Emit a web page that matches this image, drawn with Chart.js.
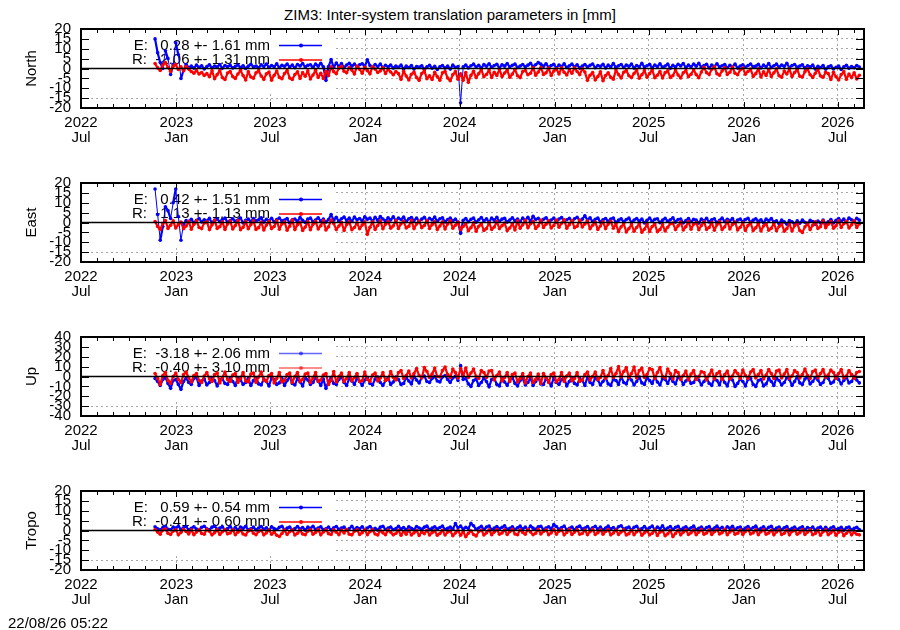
<!DOCTYPE html>
<html>
<head>
<meta charset="utf-8">
<script src="https://cdn.jsdelivr.net/npm/chart.js@4.4.1/dist/chart.umd.min.js"></script>
<style>
html, body { margin: 0; padding: 0; width: 900px; height: 630px; overflow: hidden; background: #fff; }
body { position: relative; font-family: 'Liberation Sans', Arial, sans-serif; color: #000; }
canvas { position: absolute; left: 0; }
#title { position: absolute; top: 6px; left: 0; width: 900px; text-align: center; font-size: 15px; line-height: 17px; }
#stamp { position: absolute; left: 8px; top: 614px; font-size: 15px; line-height: 17px; z-index: 2; }
</style>
</head>
<body>
<div id="title">ZIM3: Inter-system translation parameters in [mm]</div>
<canvas id="north" width="900" height="154" style="top:21px"></canvas>
<canvas id="east" width="900" height="154" style="top:175px"></canvas>
<canvas id="up" width="900" height="154" style="top:329px"></canvas>
<canvas id="tropo" width="900" height="154" style="top:483px"></canvas>
<div id="stamp">22/08/26 05:22</div>
<script>
// x values are days since 2022-07-01; one sample every 5 days
const firstDay = 143;
const stepDays = 5;
const axisMaxDay = 1512;

const tickLabels = [
    ['2022', 'Jul'], ['2023', 'Jan'], ['2023', 'Jul'], ['2024', 'Jan'], ['2024', 'Jul'],
    ['2025', 'Jan'], ['2025', 'Jul'], ['2026', 'Jan'], ['2026', 'Jul']
];

const northE = [
    15, 8, 3, 0, 9, 5, -3, 2, 13, 7,
    -5, -1, 2, 0.5, 1.2, 0.2, 1.8, 0.6, 1.4, -0.2,
    1, 1.9, 0.4, 1.3, 0.8, 2, 0.1, 1.5, 0.9, 1.7,
    0.3, 1.1, 1.8, 0.5, 1.4, 0, 1.2, 2.1, 0.7, 1.3,
    0.4, 1.9, 1, 2.2, 0.6, 1.5, 0.9, 2.4, 0.5, 1.6,
    1.1, 2.3, 0.7, 1.8, 0.4, 2, 1.3, 2.5, 0.8, 1.6,
    1.9, 0.6, 2.2, 1.2, 2.6, 0.9, -6, 1, 4.5, 0.5,
    2.8, 1, 2.5, 0.6, 1.8, 2.6, 1.2, 2.2, 0.8, 1.9,
    2.4, 1.1, 4.4, 1.5, 0.6, 2, 1, 2.3, 0.4, 1.6,
    0.9, 1.8, 0.2, 1.3, 0.6, 1.7, -0.2, 1.2, 0.5, 1.5,
    -0.3, 1, 0.7, 1.4, -0.4, 0.8, 1.6, 0.1, 1.1, -0.5,
    0.9, 1.5, 0.2, 1.2, -0.3, 1.7, 0.5, 1, -17.4, 0.8,
    1.8, 0.3, 1.4, 2.2, 0.7, 1.6, 0.2, 2, 1.1, 2.4,
    0.6, 1.5, 2.1, 0.4, 1.9, 1.2, 2.5, 0.8, 1.6, 2.2,
    0.5, 1.3, 2, 0.9, 1.7, 2.6, 1, 1.9, 3, 2.2,
    1.1, 2.4, 0.6, 1.5, 2.1, 0.3, 1.8, 1, 2.4, 0.5,
    1.4, 2.2, 0.8, 1.9, 0.2, 1.2, 2, 0.7, 1.6, 2.3,
    0.4, 1.5, 1.1, 2.1, 0.3, 1.7, 0.9, 2.5, 0.6, 1.4,
    2, 0.5, 1.8, 1.1, 2.3, 0.2, 1.5, 0.9, 2.6, 0.7,
    1.4, 2.1, 0.4, 1.8, 1, 2.4, 0.6, 1.3, 2.2, 0.1,
    1.6, 0.8, 2.1, 1.3, 2.5, 0.5, 1.7, 0.9, 2.3, 1.2,
    2.6, 0.6, 1.5, 2.1, 0.3, 1.8, 1, 2.4, 0.7, 1.4,
    2, 0.4, 1.6, 0.9, 2.2, 0.2, 1.3, 1.9, 0.6, 1.5,
    2.3, 0.8, 1.2, 2.1, 0.3, 1.7, 0.9, 2.5, 0.5, 1.4,
    2.2, 0.7, 1.8, 1.1, 2.6, 0.4, 1.5, 2, 0.6, 1.3,
    1.9, 0.2, 1.4, 0.8, 1.7, -0.3, 1.1, 0.5, 1.5, -0.4,
    0.9, 1.4, -0.2, 0.6, 1.2, -0.5, 0.8, 1.6, 0.1, 1,
    0.4, 1.5, 0.7
];
const northR = [
    2.5, 0.3, -1, 1.8, 3, 0.5, -1.5, 1.2, 2, -0.5,
    0.8, -1.2, 1, -0.3, -1.5, -2.4, -1, -2.8, -2, -3.5,
    -2.6, -4.2, -1.2, -5.2, -3.1, -1, -4.6, -5.6, -2.3, -1.5,
    -4.1, -5, -2.8, -0.9, -3.6, -5.8, -1.6, -4.3, -4.9, -2.2,
    -1.1, -3.8, -5.5, -2.7, -1.8, -5.9, -3.4, -1.3, -4.5, -5.2,
    -2.5, -1, -4.8, -5.6, -3, -1.7, -5, -2.1, -3.9, -1.2,
    -5.3, -3.3, -0.9, -4.5, -2.4, -5.1, -1.4, -3.6, 0.8, -1.6,
    -2.6, 0.2, 1.1, -1.4, -2.2, 0.5, -0.8, -2.8, 1.2, -0.4,
    -2.4, 0.6, -1.1, -2.7, 0.9, -0.3, -2, -1.2, 0.4, -2.5,
    -0.5, -1.8, -3.2, -1.5, -2.6, -5.5, -1.4, -3.8, -5.8, -2.9,
    -1.8, -4.6, -6, -2.5, -1.2, -5.2, -3.7, -5.6, -1.9, -4.1,
    -5.9, -2.2, -1.5, -4.8, -6.2, -3.1, -1.6, -5.4, -2.7, -6,
    -2, -7, -3.5, -1.4, -4.6, -2.6, -0.6, -4.2, -3, -0.8,
    -4.5, -1.9, -3.5, -0.5, -4.1, -2.3, -0.9, -4.4, -2.8, -0.4,
    -3.7, -4.6, -1.5, -1, -3.2, -2.4, 0.4, -3.4, -1.8, 0.5,
    -3, -2.2, 0.2, -3.5, -1.3, -0.1, -2.8, 0.3, -1.9, -3.3,
    -0.6, -2.4, 0.4, -1.5, -3.1, -0.2, -1.8, -6, -3.4, -2,
    -5.8, -4.1, -1.7, -6.2, -3.6, -2.2, -4.5, -5.4, -0.8, -3.1,
    -4.8, -1.9, -1, -3.7, -4.6, -2.5, -0.7, -4.9, -3.2, -1.1,
    -4.4, -2.6, -0.6, -4.7, -3.4, -1.5, -4.8, -2.1, -1.2, -4.5,
    -3.6, -0.8, -3.3, -4.8, -2.2, -1, -4.2, -2.9, -0.6, -3.1,
    -4.7, -1.8, 0.6, -2.1, -3.1, -0.4, 0.8, -2.6, -3.4, -1.2,
    0.4, -3, -1.9, 0.7, -2.4, -3.2, -0.6, 0.2, -2.9, -1.5,
    -0.3, -4, -2.6, -0.1, -4.3, -1.7, -3.5, -0.4, -4, -2.2,
    -0.2, -3.7, -4.4, -1.3, -2.8, -0.3, -4.1, -2, -0.5, -3.9,
    -4.3, -1.6, -0.1, -3.2, -4.5, -2.4, -0.5, -3.8, -4.4, -1.9,
    -2.6, -5.6, -1.9, -4.2, -5.8, -3.1, -1.6, -5.5, -2.8, -4.6,
    -2.2, -5.3, -3.4
];

const eastE = [
    17, 4, -9, -2, 8, 6, 2, 10, 17, 3,
    -9, -1, 1, 0.5, 1.6, -0.2, 1.1, 2, 0.3, 1.4,
    0.7, 2.1, -0.1, 1.2, 1.8, 0.4, 1.5, 2.2, 0.1, 1,
    1.9, 0.6, 1.3, 2.3, -0.2, 1.1, 1.7, 0.5, 2, 0.9,
    1.4, 2.4, 0.2, 1.6, 1, 2.1, 0.3, 1.5, 2.3, 0.8,
    1.2, 2, -0.3, 1.4, 1.8, 0.6, 2.5, 1.1, 0, 1.7,
    2.2, 0.4, 1.3, 2.4, 0.7, 1.8, 0.2, 1.5, 4, 1.2,
    2.6, 0.6, 1.9, 2.8, 1, 2.2, 0.5, 2.7, 1.4, 2,
    0.8, 2.9, 1.6, 2.3, 0.6, 2.6, 1.1, 3, 1.8, 0.7,
    2.4, 1.3, 2.9, 0.9, 2.2, 1.5, 2.7, 0.5, 1.9, 2.5,
    1, 2.2, 0.4, 1.7, 2.6, 0.8, 2.1, 1.3, 2.8, 0.6,
    1.9, 2.4, 0.3, 1.5, 2.2, 0.9, 1.7, 0.2, -5.5, 1.1,
    2, 0.4, 1.6, 2.3, 0.1, 1.4, 2.5, 0.8, 1.9, 0.3,
    2.2, 1.2, 2.6, 0.5, 1.7, 2.1, 0.2, 1.3, 2.4, 0.9,
    1.8, 0.4, 2.3, 1.1, 2.6, 0.6, 3.2, 1.5, 2.1, 0.3,
    1.6, 2.4, 0.8, 1.3, 2.2, 0.1, 1.8, 2.5, 0.7, 1.4,
    2.1, 0.5, 1.9, 2.6, 1, 1.7, 3.4, 1.2, 2.4, 0.5,
    1.6, 2.2, 0.2, 1.4, 2, 0.6, 1.8, 2.3, -0.1, 1.2,
    1.9, 0.4, 1.5, 2.2, 0, 1.3, 2, 0.7, 1.7, -0.2,
    1.1, 2.3, 0.5, 1.6, 1.9, -0.1, 1.2, 2.1, 0.6, 1.4,
    2.4, 0.2, 1.5, 1.8, -0.2, 1, 2, 0.4, 1.6, 1.2,
    -0.3, 1.8, 0.9, 2.1, 0.3, 1.4, 1.9, -0.1, 1.1, 2.2,
    0.5, 1.6, 1, 2, -0.2, 1.3, 1.8, 0.4, 1.5, 2.1,
    0.1, 1.2, 1.9, 0.6, 1.4, -0.1, 1.7, 1, 2, 0.3,
    0.8, -0.6, 1.2, 0.3, -0.9, 1, 0.4, -1, 0.8, -0.4,
    1.3, 0.1, -0.8, 1.1, 0.5, -1, 0.7, -0.3, 1.2, -0.6,
    0.4, 1.5, -0.2, 1.1, 2, 0.6, 1.7, 0.2, 2.3, 1.4,
    0.8, 2.1, 1.2
];
const eastR = [
    0.5, -2, -3.5, -0.6, 1, -3, -1.4, 0.8, -2.8, -1.1,
    0.2, -3.2, -1.8, 0.6, -3.4, -0.9, 0.9, -2.5, -3.1, -0.2,
    0.4, -3.6, -1.2, 1.1, -3, -2.1, 0.3, -3.5, -0.8, 0.7,
    -3.3, -1.5, 1, -3.7, -2.4, 0.5, -3.2, -1, 0.8, -3.5,
    -2.6, 0.2, -3.8, -1.3, 0.6, -3.1, -2, 0.9, -3.4, -0.7,
    0.3, -3.9, -1.9, 1.2, -3.6, -1.1, 0.1, -4, -2.3, 0.4,
    -3.7, -0.9, 0.6, -3.3, -1.6, 1, -3.8, -2.2, 1.2, -0.5,
    -3.6, -1.8, 0.1, -4, -1, 0.4, -3.7, -2.5, -0.2, -3.2,
    -1.3, 0.3, -6, -2.4, 0.3, -3.5, -1.5, 0.8, -3.2, -0.9,
    0.5, -2.9, -1.7, 1, -3, -0.6, 0.6, -2.8, -1.9, 1.1,
    -3.1, -0.8, 0.7, -2.6, -1.5, 0.9, -3, -1.1, 0.4, -3.6,
    -1.8, 0.4, -3.3, -0.7, 0.9, -2.9, -1.4, 0.2, -3.6, -2,
    -0.5, -4.2, -2.6, -0.2, -4.4, -1.9, -0.6, -4, -3.1, -0.1,
    -3.5, -2.3, 0.5, -3.1, -1.6, -0.3, -4.1, -2.8, -0.5, -3.8,
    0.8, -2.9, -1.2, 1.1, -2.7, -0.6, 0.6, -3, -1.7, 1.3,
    -2.5, -0.9, 0.9, -2.8, -1.5, 1.2, -2.4, -0.4, 1.4, -2.9,
    -1.1, 1, -2.6, -1.9, 1.2, -2.3, -0.7, 0.7, -3.2, -1.4,
    0.2, -3.5, -1.8, 0.4, -3.1, -0.8, 0.6, -2.9, -0.8, -4.6,
    -2.2, -0.5, -4.8, -3.1, -1, -4.4, -2.5, -0.6, -4.9, -3.4,
    -0.9, -4.5, -2, -0.7, -4.7, -3.6, -1.1, -4.3, -2.4, -0.6,
    -0.3, -3.6, -1.7, 0.2, -3.8, -2.1, 0.5, -3.4, -0.9, 0,
    -3.7, -1.5, 0.4, -3.5, -2.5, 0.1, -3.9, -1.2, 0.3, -3.6,
    -2.2, 0.6, -3.3, -1, 0.2, -3.8, -2.4, -0.1, -4, -1.5,
    -0.2, -4.1, -2.7, -0.4, -4.3, -1.8, -0.6, -3.9, -2.9, -0.3,
    -4.2, -2, -0.6, -4.4, -3.1, -0.5, -4.3, -1.6, -0.4, -4.1,
    -5, -2.2, -0.3, -3.6, -1.4, 0.4, -3, -2.1, 0.8, -2.6,
    -0.9, 0.5, -2.9, -1.7, 0.9, -2.5, -0.6, 0.6, -2.8, -1.2,
    0.9, -2.5, -0.7
];

const upE = [
    -2, -5, -9, -3, -1, -7, -12, -4, -3, -8,
    -13, -5, -1.5, -6, -8, -2, -1, -9, -4.5, -2.5,
    -8.5, -6, -1, -4, -9.5, -3, -2.5, -7, -8, -1.5,
    -5, -9, -1, -3.5, -8, -6, -2, -9, -4, -1,
    -7.5, -8.5, -2.5, -5, -9.5, -1.5, -3, -8, -6.5, -2,
    -9, -4, -0.5, -7, -8.5, -2, -5.5, -9.5, -1.5, -3.5,
    -8, -6, -1, -4.5, -9, -2.5, -12, -5, -1, -7,
    -8, -3, -0.5, -6, -9, -2, -4.5, -8, -1.5, -5,
    -9, -3.5, -1, -7, -8.5, -2.5, -0.5, -6, -9, -4,
    -1.5, -8, -5.5, -0.5, -3, -8, -7, -1, -4.5, -7.5,
    0, -3.5, -6.5, -1, 0.5, -5, -6, -2, 0, -4.5,
    -5.5, -0.5, 1, -3, -6, -1.5, 0.5, -4, 11, -3,
    -2, -7.5, -10, -4, -2.5, -9, -6, -1.5, -5, -10.5,
    -3, -2, -8, -9.5, -1.5, -5.5, -9, -3.5, -1, -7,
    -9.5, -4, -2, -8.5, -6, -1.5, -9, -5, -1, -7.5,
    -8, -2.5, -4.5, -9.5, -1, -6, -8, -3, -1.5, -9.5,
    -5, -1, -7, -8.5, -2, -4, -9, -0.5, -6, -8,
    -1.5, -3.5, -8.5, -5, -1, -7.5, -9, -2.5, -4, -8,
    0, -6, -7.5, -1, -3.5, -8.5, -5, -0.5, -6.5, -8,
    -1, -4, -7, -0.5, -5.5, -8.5, -2, -3, -7, -1,
    -5, -7.5, -0.5, -2.5, -8, -4.5, -1.5, -7, -6, -0.5,
    -3.5, -8.5, -5, -1, -7, -9, -2, -4, -8.5, -1,
    -6, -9.5, -2, -3.5, -10, -7, -2.5, -5, -9.5, -3,
    -2, -8, -10, -4, -3, -9.5, -7.5, -2, -5, -9,
    -1.5, -4, -8.5, -6, -1, -3, -9, -5, 0, -6.5,
    -8, -2.5, -0.5, -7.5, -5, -1, -3.5, -8, -6, 0,
    -2, -7, -5.5, 0.5, -3, -7.5, -4, -0.5, -6.5, -5,
    0, -3.5, -6.5
];
const upR = [
    3, -2, -8, 1, 4, -4, -7, 0, 3.5, -3,
    -6, 2, 4.5, -1.5, -5.5, 1, 3, -4, -6, 0.5,
    4, -2.5, -5, 2, 3.5, -6.5, -1, 4.5, -3, -5,
    1.5, 3, -6, -2, 4, -4.5, -5.5, 2.5, 3.5, -6,
    -0.5, 4.5, -3.5, -5, 1, 3, -6.5, -2, 4, -5.5,
    -4, 2, 3.5, -6, 0, 4, -5, -3, 2.5, 3.5,
    -6, -1.5, 4, -5, -3.5, 1.5, 3, -8, -4, 5,
    -5.5, 0, 3.5, -5, -2, 4, -4.5, -1, 3, -5,
    -4, 4.5, -3, -5, 1.5, 3.5, -4.5, -1.5, 4, -4,
    -3, 5, -1, -3.5, 4, 6, -2, 1, 5.5, -1.5,
    3, 8, 1, -1.5, 9, 5, -1, 2.5, 8.5, 0,
    -0.5, 6, 9.5, 2, -1, 7.5, 4, -1.5, 8, 1,
    8.5, -1, 3.5, 7.5, 0, -2, 6, 4, -1, 5.5,
    6, -3.5, 1, 4.5, -4.5, -1, 4, -5, 2, 3.5,
    -5.5, -2, 3, -6.5, 0, 3.5, -6, -3, 2.5, -7,
    3, -1, -6, 2, 3.5, -5.5, -3, 4, -5, 0.5,
    3.5, -4.5, -2, 4, -5, -3.5, 2, 4.5, -3.5, 0,
    4.5, -3, -1, 6, -2, 1, 8, -1, 3, 10,
    -0.5, 5, 9, -1, 3, 9.5, -1.5, 6, 8.5, -1,
    2, 8, 7, -2, 4, 9, 0, -1.5, 7.5, 3,
    -2.5, 6, 4, -3, 1, 5.5, -3.5, 2.5, 6, -3,
    0, 5, 4, -3.5, 1.5, 6.5, -2.5, 3, 5, -3,
    2, 5.5, -2.5, 0.5, 6, 3, -2, 6.5, 1, -2,
    4.5, 7, -1.5, 2, 6, -2.5, 1.5, 7, 3, -2,
    5.5, 6.5, -1.5, 2.5, 7, -2, 0.5, 6, 4, -1.5,
    2, 7.5, 1, -2, 5, 6.5, -1.5, 3, 7, -1,
    1.5, 6.5, 4, -2, 3, 7, -1.5, 0.5, 6, 2,
    -2, 4, 5
];

const tropoE = [
    1.9, 0.8, 0.3, 1.5, 2.1, 0.6, 0.4, 1.8, 1.2, 2.2,
    0.5, 1.4, 2, 0.3, 1.1, 1.9, 0.7, 0.2, 1.6, 2.1,
    0.9, 0.4, 1.7, 2.2, 0.6, 1.2, 1.9, 0.3, 1, 2,
    0.5, 1.5, 0.2, 1.8, 1.1, 2.1, 0.4, 0.9, 1.7, 0.3,
    1.3, 2, 0.6, 1.4, 0.2, 1.9, 1, 0.5, 1.6, 2.1,
    0.4, 1.2, 1.8, 0.3, 1, 2, 0.7, 1.5, 0.2, 1.7,
    1.1, 2.1, 0.5, 1.3, 1.9, 0.4, 0.9, 1.8, 0.2, 1.4,
    2, 0.6, 1.2, 1.7, 0.3, 1, 2.1, 0.5, 1.5, 0.9,
    1.9, 0.4, 1.3, 2, 0.6, 1.1, 0.2, 1.7, 2.1, 0.5,
    1.2, 1.8, 0.4, 1, 2.1, 0.7, 1.5, 0.3, 1.9, 1.1,
    0.5, 2, 1.3, 0.6, 1.7, 2.2, 0.4, 1.2, 1.9, 0.7,
    1.5, 2.3, 0.5, 1.1, 1.8, 0.6, 3.5, 1.4, 2.2, 0.7,
    1.6, 1, 3.6, 2.4, 0.6, 1.3, 2.1, 0.5, 1.8, 2.3,
    0.4, 1.2, 2, 0.8, 1.6, 2.4, 0.6, 1.1, 1.9, 0.5,
    1.4, 2.2, 0.7, 1.7, 0.4, 2.3, 1.2, 0.6, 1.9, 2.1,
    0.5, 1.3, 1.9, 0.8, 3, 2, 0.6, 1.5, 2.2, 0.4,
    1.1, 1.8, 0.3, 1.6, 2.2, 0.7, 1.2, 2, 0.5, 1.4,
    2.1, 0.6, 1.7, 0.3, 1.3, 2.2, 0.8, 1.5, 0.4, 1.9,
    2.4, 0.7, 1.2, 1.8, 0.3, 1.6, 2.1, 0.5, 1, 2,
    0.6, 1.4, 2.2, 0.4, 1.7, 1, 2.4, 0.5, 1.3, 2,
    0.5, 1.6, 2.1, 0.3, 1.2, 1.9, 0.6, 1.4, 2.2, 0.4,
    1.1, 1.8, 0.5, 1.5, 2, 0.3, 1.3, 2.2, 0.7, 1.6,
    0.4, 1.9, 1.1, 2.1, 0.5, 1.4, 1.8, 0.3, 1.2, 2,
    0.6, 1.5, 2.2, 0.4, 1.1, 1.9, 0.5, 1.6, 2.1, 0.3,
    1.2, 1.8, 0.4, 1.4, 2, 0.2, 1.1, 1.7, 0.5, 1.3,
    1.9, 0.3, 1.5, 0.8, 1.8, 0.1, 1.2, 1.7, 0.4, 1.6,
    0.2, 1.3, 1.9, 0.5, 1, 1.6, 0.1, 1.4, 1.8, 0.3,
    1.1, 1.6, 0.5
];
const tropoR = [
    0.5, -0.8, -1.9, 0.2, 0.7, -1.4, -2, -0.3, 0.4, -2.2,
    -1, 0.6, -0.5, -1.8, 0.3, -2.1, -0.7, 0.5, -1.5, -1.9,
    0.6, -0.4, -2.2, -1.1, 0.3, -2, -0.6, 0.5, -1.7, -1.3,
    0.4, -2.1, -0.9, 0.2, -1.8, -2.3, -0.2, 0.3, -1.4, -2.1,
    -0.5, 0.1, -2.2, -1.2, 0.2, -1.9, -0.8, -2.4, -3, -1.5,
    0.2, -2, -0.6, 0.3, -2.3, -1.4, 0.1, -1.8, -2.1, -0.3,
    0.4, -1.9, -1, 0.5, -2.2, -0.7, 0.3, -1.6, -2, 0.4,
    -0.9, -2.1, 0.2, -1.3, 0.5, -1.9, -2.2, -0.4, 0.3, -2,
    -1.1, 0.4, -2.1, -0.6, 0.3, -1.8, -2.3, 0, -1.2, -2.1,
    0.2, -0.9, -2.2, -1.5, 0.1, -2.4, -0.5, -1.9, 0.1, -2.3,
    -1.2, 0, -2.5, -0.7, -1.6, 0.1, -2.3, -1.1, -0.2, -2.4,
    -1.5, 0.1, -2.3, -0.8, -0.2, -2.6, -1.3, 0, -2.4, -0.6,
    -3.2, -1.4, -0.1, -2, -2.8, -0.5, 0.2, -2.3, -1.2, 0.3,
    -2.1, -0.8, 0.5, -1.9, -1.3, 0.4, -2, -0.6, 0.6, -1.8,
    -2.1, 0.4, -1, -1.9, 0.5, -0.7, -2.1, -1.4, 0.6, -1.8,
    -0.5, 0.3, -2.1, -1.2, 0.5, -1.9, -0.4, 0.4, -2.2, -1,
    0.6, -2, -0.8, 0.4, -1.9, -1.5, 0.2, -2.1, -0.6, 0.6,
    -2, -1.1, 0.3, -1.9, -0.5, 0.5, -2.2, -1.3, 0.2, -2,
    -0.7, 0.3, -2.3, -1.6, 0.1, -2.1, -0.6, 0.2, -2.4, -1.2,
    -0.1, -2.2, -1.4, 0.2, -2.5, -0.8, -0.1, -2.6, -1.7, 0.1,
    -3.1, -1.5, 0.2, -2.2, -0.9, 0.4, -2, -1.2, 0.3, -2.1,
    -0.8, 0.5, -1.9, -1.3, 0.3, -2, -0.6, 0.5, -1.8, -1.1,
    0.6, -2.1, -0.7, 0.4, -1.9, -1.4, 0.3, -2, -0.5, 0.6,
    -1.8, -1.2, 0.4, -2.1, -0.6, 0.5, -1.9, -1.3, 0.2, -2.2,
    -0.7, 0.4, -2, -1.4, 0.3, -2.2, -0.5, 0.2, -1.9, -1.1,
    0.5, -2, -0.8, 0.4, -2.1, -1.5, 0.1, -2.4, -0.6, 0.3,
    -2.1, -1.2, 0.2, -2.4, -0.9, 0.1, -2.6, -1.4, 0, -2.2,
    -0.8, -1.9, -2.2
];

const northKey = ['E:   0.28 +- 1.61 mm', 'R:  -2.06 +- 1.31 mm'];
const eastKey = ['E:   0.42 +- 1.51 mm', 'R:  -1.13 +- 1.13 mm'];
const upKey = ['E:  -3.18 +- 2.06 mm', 'R:  -0.40 +- 3.10 mm'];
const tropoKey = ['E:   0.59 +- 0.54 mm', 'R:  -0.41 +- 0.60 mm'];

const FONT = "'Liberation Sans', Arial, sans-serif";
Chart.defaults.font.family = FONT;
Chart.defaults.color = '#000';
Chart.defaults.animation = false;

// day offset of the first of a month, counted from 2022-07-01
const dayOf = (y, m) => (Date.UTC(y, m, 1) - Date.UTC(2022, 6, 1)) / 86400000;
const tickDays = tickLabels.map(l => dayOf(+l[0], l[1] === 'Jan' ? 0 : 6));
const monthDays = [];
for (let m = 0; m <= 49; m++) monthDays.push(dayOf(2022, 6 + m));

const toPoints = vals => vals.map((v, i) => ({ x: firstDay + i * stepDays, y: v }));

function makePanel(id, axisTitle, eVals, rVals, yLim, yStep, keyText, keyAlpha) {
    const decor = {
        id: 'decor',
        beforeDatasetsDraw(chart) {
            const { ctx, chartArea } = chart;
            ctx.save();
            // opaque key area hides the grid behind it
            ctx.fillStyle = '#fff';
            ctx.fillRect(chartArea.left + 1, chartArea.top + 1, 333 - chartArea.left, 63);
            ctx.font = '15px ' + FONT;
            ctx.textAlign = 'right';
            ctx.textBaseline = 'middle';
            ['#0000ff', '#ff0000'].forEach((col, k) => {
                const y = chartArea.top + 16.5 + k * 14.5;
                ctx.globalAlpha = 1;
                ctx.fillStyle = '#000';
                ctx.fillText(keyText[k], 270, y);
                ctx.globalAlpha = keyAlpha;
                ctx.strokeStyle = col;
                ctx.lineWidth = 1.5;
                ctx.beginPath();
                ctx.moveTo(279, y);
                ctx.lineTo(322, y);
                ctx.stroke();
                ctx.fillStyle = col;
                ctx.beginPath();
                ctx.arc(301, y, 2, 0, Math.PI * 2);
                ctx.fill();
            });
            ctx.restore();
        },
        afterDatasetsDraw(chart) {
            const { ctx, chartArea } = chart;
            const { left, right, top, bottom } = chartArea;
            const xs = chart.scales.x, ys = chart.scales.y;
            ctx.save();
            ctx.strokeStyle = '#000';
            // zero line
            ctx.lineWidth = 1.5;
            const y0 = ys.getPixelForValue(0);
            ctx.beginPath();
            ctx.moveTo(left, y0);
            ctx.lineTo(right, y0);
            ctx.stroke();
            // inward tics
            ctx.lineWidth = 1;
            ctx.beginPath();
            monthDays.forEach(d => {
                if (d > axisMaxDay) return;
                const px = Math.round(xs.getPixelForValue(d)) + 0.5;
                const len = tickDays.includes(d) ? 6 : 4;
                ctx.moveTo(px, top); ctx.lineTo(px, top + len);
                ctx.moveTo(px, bottom); ctx.lineTo(px, bottom - len);
            });
            ys.ticks.forEach(t => {
                const py = Math.round(ys.getPixelForValue(t.value)) + 0.5;
                ctx.moveTo(left, py); ctx.lineTo(left + 8, py);
                ctx.moveTo(right, py); ctx.lineTo(right - 8, py);
            });
            ctx.stroke();
            // frame
            ctx.lineWidth = 2;
            ctx.strokeRect(left, top, right - left, bottom - top);
            ctx.restore();
        }
    };

    const series = (label, vals, col) => ({
        label: label,
        data: toPoints(vals),
        borderColor: col,
        backgroundColor: col,
        borderWidth: 2.2,
        borderJoinStyle: 'round',
        pointRadius: 1.8,
        pointBorderWidth: 0,
        pointBackgroundColor: col,
        tension: 0,
        // outlier jumps are drawn thin, the daily scatter band thicker
        segment: {
            borderWidth: c => Math.abs(c.p1.y - c.p0.y) > 14 ? 1 : 2.2
        }
    });

    new Chart(document.getElementById(id), {
        type: 'line',
        data: {
            // R first so it is painted on top of E
            datasets: [series('R', rVals, '#ff0000'), series('E', eVals, '#0000ff')]
        },
        options: {
            responsive: false,
            layout: { padding: { top: 8, right: 36, left: 0, bottom: 0 } },
            plugins: { legend: { display: false }, tooltip: { enabled: false } },
            scales: {
                x: {
                    type: 'linear',
                    min: 0,
                    max: axisMaxDay,
                    afterBuildTicks: s => { s.ticks = tickDays.map(v => ({ value: v })); },
                    afterFit: s => { s.height = 67; s.paddingLeft = 0; s.paddingRight = 0; },
                    ticks: {
                        autoSkip: false,
                        maxRotation: 0,
                        padding: 8,
                        font: { size: 15, lineHeight: 0.97 },
                        callback: (v, i) => tickLabels[i]
                    },
                    grid: { drawTicks: false, color: '#a8a8a8', lineWidth: 1 },
                    border: { display: false, dash: [2, 3] }
                },
                y: {
                    min: -yLim,
                    max: yLim,
                    afterFit: s => { s.width = 81; s.paddingTop = 0; s.paddingBottom = 0; },
                    ticks: { stepSize: yStep, autoSkip: false, padding: 10, font: { size: 15 } },
                    title: { display: true, text: axisTitle, font: { size: 15 }, padding: { top: 23, bottom: 0 } },
                    grid: {
                        drawTicks: false,
                        lineWidth: 1,
                        color: c => (c.tick && c.tick.value === 0) ? 'rgba(0,0,0,0)' : '#a8a8a8'
                    },
                    border: { display: false, dash: [2, 3] }
                }
            }
        },
        plugins: [decor]
    });
}

makePanel('north', 'North', northE, northR, 20, 5, northKey, 1);
makePanel('east', 'East', eastE, eastR, 20, 5, eastKey, 1);
makePanel('up', 'Up', upE, upR, 40, 10, upKey, 0.6);
makePanel('tropo', 'Tropo', tropoE, tropoR, 20, 5, tropoKey, 1);
</script>
</body>
</html>
